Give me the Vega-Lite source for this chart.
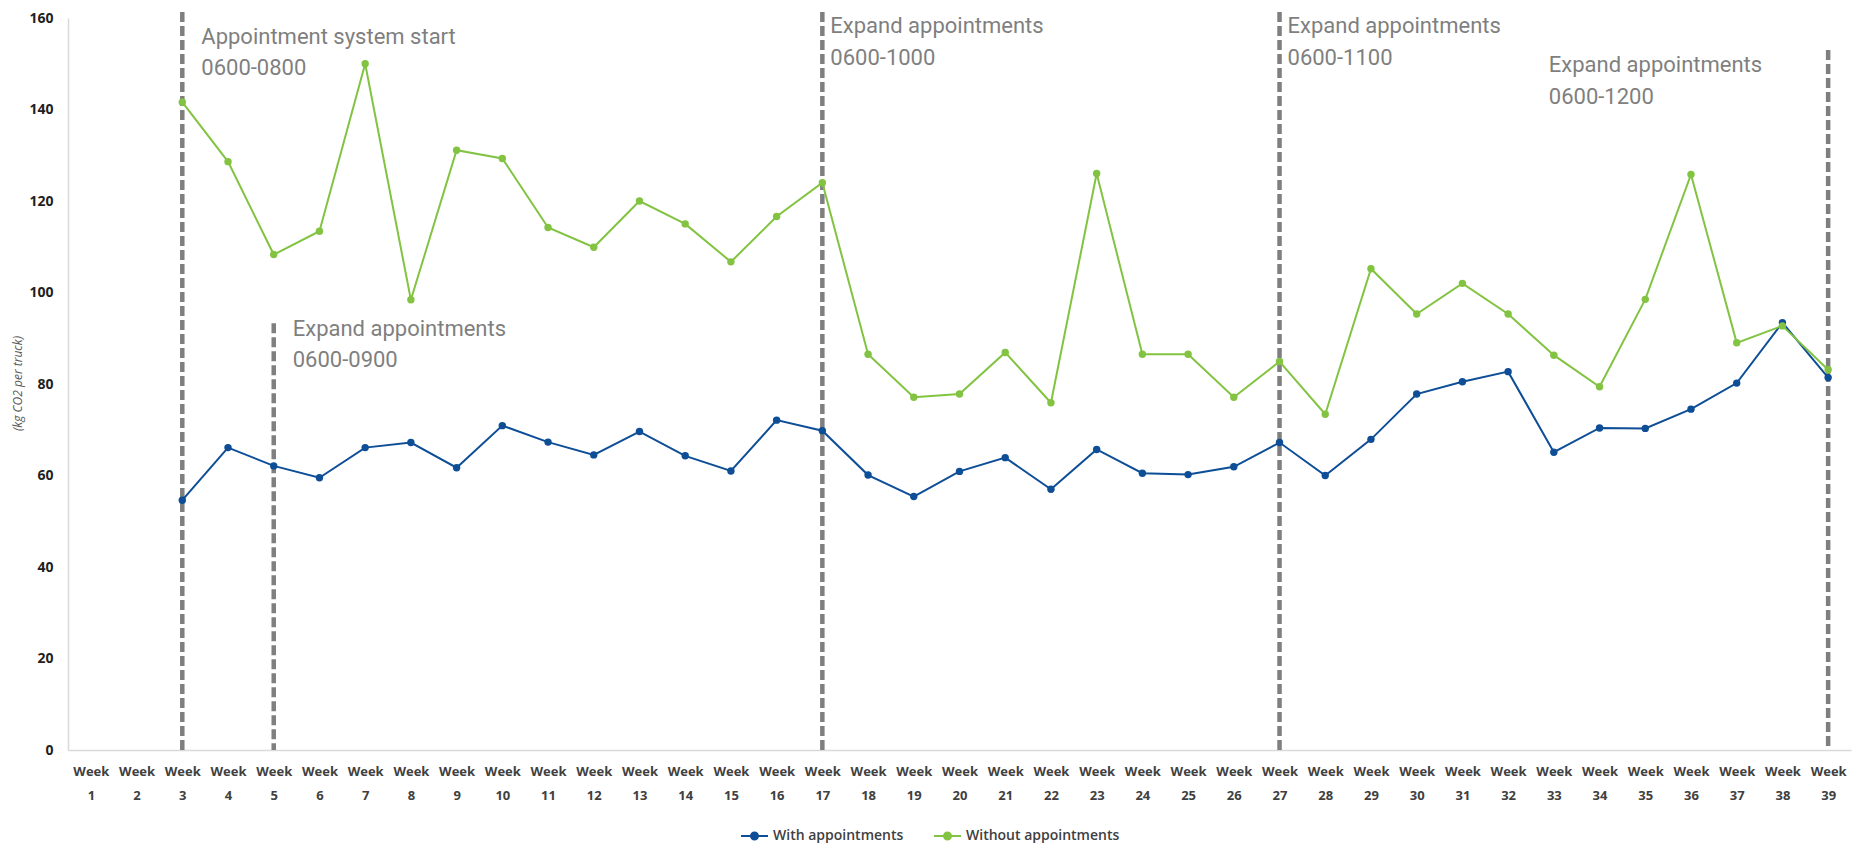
{
  "$schema": "https://vega.github.io/schema/vega-lite/v6.json",
  "width": 1783,
  "height": 732,
  "autosize": {"type": "none"},
  "padding": {"left": 68, "top": 18, "right": 15, "bottom": 96},
  "background": "white",
  "config": {
    "view": {"stroke": null},
    "font": "Open Sans",
    "axis": {"grid": false, "ticks": false, "domainColor": "#d9d9d9", "domainWidth": 1.5}
  },
  "datasets": {
    "series": [
      {"week": 3, "series": "With appointments", "value": 54.6},
      {"week": 4, "series": "With appointments", "value": 66.1},
      {"week": 5, "series": "With appointments", "value": 62.1},
      {"week": 6, "series": "With appointments", "value": 59.5},
      {"week": 7, "series": "With appointments", "value": 66.1},
      {"week": 8, "series": "With appointments", "value": 67.2},
      {"week": 9, "series": "With appointments", "value": 61.7},
      {"week": 10, "series": "With appointments", "value": 70.9},
      {"week": 11, "series": "With appointments", "value": 67.3},
      {"week": 12, "series": "With appointments", "value": 64.5},
      {"week": 13, "series": "With appointments", "value": 69.6},
      {"week": 14, "series": "With appointments", "value": 64.3},
      {"week": 15, "series": "With appointments", "value": 61.0},
      {"week": 16, "series": "With appointments", "value": 72.1},
      {"week": 17, "series": "With appointments", "value": 69.8},
      {"week": 18, "series": "With appointments", "value": 60.1},
      {"week": 19, "series": "With appointments", "value": 55.4},
      {"week": 20, "series": "With appointments", "value": 60.9},
      {"week": 21, "series": "With appointments", "value": 63.9},
      {"week": 22, "series": "With appointments", "value": 57.0},
      {"week": 23, "series": "With appointments", "value": 65.7},
      {"week": 24, "series": "With appointments", "value": 60.5},
      {"week": 25, "series": "With appointments", "value": 60.2},
      {"week": 26, "series": "With appointments", "value": 61.9},
      {"week": 27, "series": "With appointments", "value": 67.2},
      {"week": 28, "series": "With appointments", "value": 60.0},
      {"week": 29, "series": "With appointments", "value": 67.9},
      {"week": 30, "series": "With appointments", "value": 77.8},
      {"week": 31, "series": "With appointments", "value": 80.5},
      {"week": 32, "series": "With appointments", "value": 82.7},
      {"week": 33, "series": "With appointments", "value": 65.1},
      {"week": 34, "series": "With appointments", "value": 70.4},
      {"week": 35, "series": "With appointments", "value": 70.3},
      {"week": 36, "series": "With appointments", "value": 74.5},
      {"week": 37, "series": "With appointments", "value": 80.2},
      {"week": 38, "series": "With appointments", "value": 93.4},
      {"week": 39, "series": "With appointments", "value": 81.4},
      {"week": 3, "series": "Without appointments", "value": 141.6},
      {"week": 4, "series": "Without appointments", "value": 128.6},
      {"week": 5, "series": "Without appointments", "value": 108.3},
      {"week": 6, "series": "Without appointments", "value": 113.4},
      {"week": 7, "series": "Without appointments", "value": 150.0},
      {"week": 8, "series": "Without appointments", "value": 98.4},
      {"week": 9, "series": "Without appointments", "value": 131.1},
      {"week": 10, "series": "Without appointments", "value": 129.3},
      {"week": 11, "series": "Without appointments", "value": 114.2},
      {"week": 12, "series": "Without appointments", "value": 109.9},
      {"week": 13, "series": "Without appointments", "value": 120.0},
      {"week": 14, "series": "Without appointments", "value": 115.0},
      {"week": 15, "series": "Without appointments", "value": 106.7},
      {"week": 16, "series": "Without appointments", "value": 116.6},
      {"week": 17, "series": "Without appointments", "value": 124.0},
      {"week": 18, "series": "Without appointments", "value": 86.5},
      {"week": 19, "series": "Without appointments", "value": 77.1},
      {"week": 20, "series": "Without appointments", "value": 77.8},
      {"week": 21, "series": "Without appointments", "value": 86.9},
      {"week": 22, "series": "Without appointments", "value": 75.9},
      {"week": 23, "series": "Without appointments", "value": 126.0},
      {"week": 24, "series": "Without appointments", "value": 86.5},
      {"week": 25, "series": "Without appointments", "value": 86.5},
      {"week": 26, "series": "Without appointments", "value": 77.1},
      {"week": 27, "series": "Without appointments", "value": 84.9},
      {"week": 28, "series": "Without appointments", "value": 73.4},
      {"week": 29, "series": "Without appointments", "value": 105.2},
      {"week": 30, "series": "Without appointments", "value": 95.3},
      {"week": 31, "series": "Without appointments", "value": 102.0},
      {"week": 32, "series": "Without appointments", "value": 95.3},
      {"week": 33, "series": "Without appointments", "value": 86.3},
      {"week": 34, "series": "Without appointments", "value": 79.4},
      {"week": 35, "series": "Without appointments", "value": 98.5},
      {"week": 36, "series": "Without appointments", "value": 125.8},
      {"week": 37, "series": "Without appointments", "value": 89.0},
      {"week": 38, "series": "Without appointments", "value": 92.7},
      {"week": 39, "series": "Without appointments", "value": 83.1}
    ],
    "rules": [
      {"week": 3, "top": 161.3},
      {"week": 5, "top": 93.3},
      {"week": 17, "top": 161.3},
      {"week": 27, "top": 161.3},
      {"week": 39, "top": 153.0}
    ],
    "notes": [
      {"week": 3, "y": 154.3, "text": "Appointment system start\n0600-0800"},
      {"week": 5, "y": 90.5, "text": "Expand appointments\n0600-0900"},
      {"week": 17, "y": 156.7, "text": "Expand appointments\n0600-1000"},
      {"week": 27, "y": 156.7, "text": "Expand appointments\n0600-1100"},
      {"week": 33, "y": 148.2, "text": "Expand appointments\n0600-1200"}
    ]
  },
  "encoding": {
    "x": {
      "field": "week",
      "type": "ordinal",
      "scale": {"type": "point", "padding": 0.5, "domain": [1,2,3,4,5,6,7,8,9,10,11,12,13,14,15,16,17,18,19,20,21,22,23,24,25,26,27,28,29,30,31,32,33,34,35,36,37,38,39]},
      "axis": {
        "title": null,
        "labelAngle": 0,
        "labelExpr": "['Week', datum.label]",
        "labelFont": "Open Sans",
        "labelFontWeight": "bold",
        "labelFontSize": 13,
        "labelColor": "#404040",
        "labelLineHeight": 24,
        "labelPadding": 15
      }
    }
  },
  "layer": [
    {
      "data": {"name": "rules"},
      "mark": {"type": "rule", "color": "#7f7f7f", "strokeWidth": 4.5, "strokeDash": [10, 4]},
      "encoding": {
        "y": {"field": "top", "type": "quantitative"},
        "y2": {"datum": 0}
      }
    },
    {
      "data": {"name": "series"},
      "mark": {"type": "line", "strokeWidth": 2, "point": {"filled": true, "size": 55}},
      "encoding": {
        "y": {
          "field": "value",
          "type": "quantitative",
          "scale": {"domain": [0, 160], "nice": false},
          "axis": {
            "values": [0, 20, 40, 60, 80, 100, 120, 140, 160],
            "title": "(kg CO2 per truck)",
            "titleFont": "Open Sans",
            "titleFontStyle": "italic",
            "titleFontWeight": "normal",
            "titleFontSize": 12,
            "titleColor": "#595959",
            "titleAngle": 270,
            "titleAlign": "center",
            "titleBaseline": "middle",
            "titleX": -51,
            "titleY": 365,
            "labelFont": "Open Sans",
            "labelFontWeight": "bold",
            "labelFontSize": 14,
            "labelColor": "#1f1f1f",
            "labelPadding": 15
          }
        },
        "color": {
          "field": "series",
          "type": "nominal",
          "scale": {"domain": ["With appointments", "Without appointments"], "range": ["#0d4e97", "#82c341"]},
          "legend": {
            "title": null,
            "orient": "none",
            "direction": "horizontal",
            "legendX": 672,
            "legendY": 803,
            "symbolType": "M-1,0L1,0M-0.26,0A0.26,0.26 0 1,1 0.26,0A0.26,0.26 0 1,1 -0.26,0",
            "symbolSize": 729,
            "symbolStrokeWidth": 2,
            "labelFont": "Open Sans",
            "labelFontSize": 14,
            "labelFontWeight": 600,
            "labelColor": "#404040",
            "labelOffset": 4,
            "columnPadding": 26,
            "encode": {"symbols": {"update": {"fill": {"scale": "color", "field": "value"}, "stroke": {"scale": "color", "field": "value"}}}}
          }
        }
      }
    },
    {
      "data": {"name": "notes"},
      "transform": [{"filter": "datum.week <= 5"}],
      "mark": {"type": "text", "align": "left", "baseline": "alphabetic", "dx": 19, "lineBreak": "\n", "lineHeight": 31, "font": "Roboto", "fontSize": 22, "color": "#7f7f7f"},
      "encoding": {"y": {"field": "y", "type": "quantitative"}, "text": {"field": "text"}}
    },
    {
      "data": {"name": "notes"},
      "transform": [{"filter": "datum.week == 17 || datum.week == 27"}],
      "mark": {"type": "text", "align": "left", "baseline": "alphabetic", "dx": 8, "lineBreak": "\n", "lineHeight": 32, "font": "Roboto", "fontSize": 22, "color": "#7f7f7f"},
      "encoding": {"y": {"field": "y", "type": "quantitative"}, "text": {"field": "text"}}
    },
    {
      "data": {"name": "notes"},
      "transform": [{"filter": "datum.week == 33"}],
      "mark": {"type": "text", "align": "left", "baseline": "alphabetic", "dx": -5, "lineBreak": "\n", "lineHeight": 32, "font": "Roboto", "fontSize": 22, "color": "#7f7f7f"},
      "encoding": {"y": {"field": "y", "type": "quantitative"}, "text": {"field": "text"}}
    }
  ]
}
